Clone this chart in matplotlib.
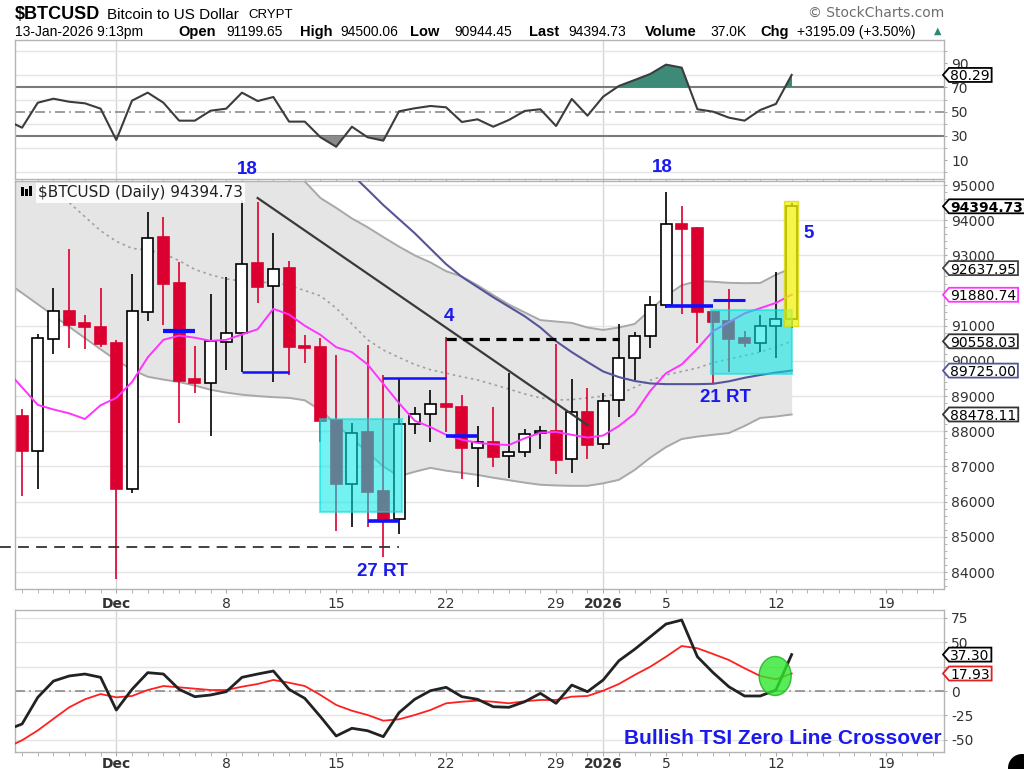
import matplotlib
matplotlib.use("Agg")
import matplotlib.pyplot as plt
from matplotlib.patches import Rectangle, Ellipse, Polygon, Circle
from matplotlib.transforms import IdentityTransform
import numpy as np
import pandas as pd

W, H = 1024, 769

# ---------------- data ----------------
candle_dates = pd.date_range("2025-11-25", "2026-01-13", freq="D")
opens = [88430, 87450, 90620, 91420, 91080, 90970,
         90520, 86370, 91400, 93510, 92220, 89490, 89380, 90550, 90790, 92770, 92130, 92630, 90430, 90400,
         88320, 86490, 87970, 86300, 85500, 88210, 88480, 88770, 88680, 87530, 87700, 87300, 87420, 87940, 88010, 87200, 88560,
         87640, 88890, 90090, 90710, 91590, 93880, 93770, 91380, 91140, 90640, 90520, 91000, 91199.65]
highs = [88630, 90770, 92060, 93180, 91300, 92080,
         90600, 92460, 94230, 94100, 92800, 90430, 91890, 92390, 94580, 94510, 93630, 92840, 90740, 90640,
         90170, 88240, 90450, 89600, 89490, 88680, 89170, 90670, 89030, 88150, 88680, 89650, 88060, 88150, 90470, 89490, 89220,
         89080, 91050, 90830, 91850, 94810, 94410, 93800, 91400, 92040, 90850, 91300, 92520, 94500.06]
lows = [86160, 86370, 90190, 90360, 90340, 90400,
        83790, 86240, 91140, 91020, 88240, 89080, 87870, 89740, 89690, 91660, 89410, 89600, 89930, 87700,
        85170, 85290, 85290, 84440, 85080, 87920, 87700, 87990, 86640, 86410, 86990, 86660, 87260, 87490, 86790, 86820, 87200,
        87500, 88420, 89460, 90360, 91500, 91330, 90500, 89340, 89690, 90400, 90250, 90090, 90944.45]
closes = [87440, 90640, 91420, 91020, 90950, 90480,
          86370, 91420, 93500, 92200, 89440, 89360, 90570, 90800, 92760, 92110, 92610, 90400, 90360, 88300,
          86490, 87960, 86280, 85500, 88210, 88480, 88770, 88680, 87530, 87700, 87280, 87420, 87910, 88010, 87180, 88540, 87610,
          88870, 90090, 90710, 91590, 93880, 93750, 91380, 91120, 90620, 90500, 90990, 91199.64, 94394.73]

ind_dates = pd.date_range("2025-11-24", "2026-01-13", freq="D")
rsi = [43, 36.8, 57.4, 60.7, 58.2, 56.9, 52.5,
       26.7, 59.1, 65.7, 57.4, 42.6, 42.6, 50.8, 52.5, 65.7, 58.8, 62.1, 41.8, 41.8, 28.9, 21.1, 37.6, 28.9, 26.1,
       50.3, 52.8, 54.7, 53.6, 41.5, 43.7, 37.6, 43.2, 50.6, 52.0, 38.2, 60.5, 46.7,
       62.4, 71.2, 76.1, 81.1, 88.8, 86.3, 52.0, 50.0, 45.1, 42.6, 51.4, 56.4, 80.29]
tsi = [-40, -33.8, -6.5, 10.2, 15.4, 17.4, 14.0,
       -19.5, 1.7, 18.8, 17.4, 1.7, -5.8, -4.1, -0.7, 14.0, 17.4, 20.5, 1.7, -7.5, -26.3, -46.1, -38.2, -40.7, -46.8,
       -22.2, -8.5, 0.3, 3.8, -5.8, -8.5, -16.1, -16.7, -11.0, -2.4, -12.6, 6.1, -0.7,
       11.3, 31.0, 42.7, 55.6, 68.6, 72.7, 35.1, 18.8, 4.4, -5.1, -5.1, 1.0, 37.30]
tsi_signal = [-58, -50.5, -40.4, -28.5, -16.7, -8.5, -3.1,
              -6.5, -5.1, 1.0, 5.1, 3.8, 2.4, 1.0, 1.0, 4.4, 7.2, 11.3, 8.5, 5.1, -4.1, -14.3, -20.2, -24.6, -30.4,
              -29.0, -24.6, -19.5, -12.6, -11.0, -9.9, -11.0, -12.6, -10.5, -9.2, -9.2, -5.8, -5.1,
              0.3, 7.2, 16.4, 24.9, 35.1, 46.1, 43.8, 37.9, 31.8, 23.3, 15.4, 12.0, 17.93]
bb_upper = [101500, 101000, 100600, 100200, 99800, 99400, 99000,
            98700, 98400, 98100, 97800, 97500, 97200, 96900, 96600, 96300, 96000, 95700, 95400, 95100, 94630, 94350,
            94050, 93800, 93520, 93250, 93000, 92800, 92550, 92400, 92150, 91870, 91600, 91380, 91160, 91120, 91080, 90950,
            90880, 90950, 91050, 91450, 91850, 92150, 92270, 92250, 92220, 92210, 92215, 92450, 92637.95]
bb_middle = [95900, 95600, 95200, 94850, 94500, 94100, 93700,
             93400, 93200, 93150, 93050, 92850, 92600, 92450, 92330, 92270, 92240, 92220, 92150, 92000, 91850, 91500,
             91050, 90600, 90310, 90100, 89900, 89750, 89650, 89550, 89460, 89330, 89200, 89060, 88950, 88890, 88900, 88950,
             89000, 89050, 89250, 89450, 89600, 89700, 89800, 89950, 90050, 90150, 90250, 90400, 90558.03]
bb_lower = [92250, 91930, 91610, 91290, 90970, 90650, 90330,
            90020, 89750, 89550, 89470, 89400, 89300, 89180, 89100, 89040, 89000, 88970, 88950, 88880, 88600, 88200,
            87800, 87400, 87000, 86720, 86850, 86960, 86880, 86820, 86760, 86680, 86610, 86540, 86480, 86460, 86450, 86450,
            86520, 86620, 86900, 87250, 87550, 87780, 87850, 87900, 87950, 88150, 88380, 88420, 88478.11]
ema = [89740, 89250, 88750, 88620, 88510, 88350, 88740,
       88950, 89400, 90100, 90600, 90720, 90660, 90570, 90600, 90750, 90900, 91480, 91320, 91000, 90740, 90390,
       90250, 89900, 89350, 88800, 88300, 88120, 87900, 87760, 87670, 87630, 87610, 87800, 87960, 87980, 87900, 87820,
       87880, 88150, 88500, 89150, 89650, 89900, 90350, 90850, 91100, 91350, 91500, 91650, 91880.74]
nan = float("nan")
sma50 = [nan, nan, nan, nan, nan, nan, nan,
         nan, nan, nan, nan, nan, nan, nan, nan, nan, nan, nan, nan, nan, nan, 95750,
         95300, 94870, 94430, 94030, 93630, 93190, 92750, 92390, 92100, 91810, 91540, 91270, 90950, 90560, 90250, 89970,
         89700, 89540, 89430, 89360, 89340, 89340, 89340, 89350, 89420, 89520, 89600, 89670, 89725.00]

tick_dates = ["2025-12-01", "2025-12-08", "2025-12-15", "2025-12-22", "2025-12-29",
              "2026-01-01", "2026-01-05", "2026-01-12", "2026-01-19"]
tick_labels = ["Dec", "8", "15", "22", "29", "2026", "5", "12", "19"]

# chartist annotations
trend_line = [("2025-12-10", 94630), ("2025-12-31", 88180)]
resist_dashed = ("2025-12-22", "2026-01-02", 90614)
support_dashed = ("2025-11-23 15:00", "2025-12-19", 84720)
blue_levels = [("2025-12-04", "2025-12-06", 90850, 3.0),
               ("2025-12-09", "2025-12-12", 89693, 1.8),
               ("2025-12-17", "2025-12-19", 85450, 2.6),
               ("2025-12-18", "2025-12-22", 89523, 1.8),
               ("2025-12-22", "2025-12-24", 87866, 2.6),
               ("2026-01-05", "2026-01-08", 91570, 2.6),
               ("2026-01-08", "2026-01-10", 91732, 2.2)]
cyan_boxes = [("2025-12-14 00:00", "2025-12-19 05:00", 85706, 88349),
              ("2026-01-07 21:00", "2026-01-13 01:00", 89628, 91447)]
yellow_box = ("2026-01-12 12:30", "2026-01-13 10:00", 90993, 94546)

# ---------------- helpers ----------------
d0 = pd.Timestamp("2025-12-01")
def xd(s):
    return (pd.Timestamp(s) - d0) / pd.Timedelta(days=1)

xc = np.array([(d - d0).days for d in candle_dates], dtype=float)
xi = np.array([(d - d0).days for d in ind_dates], dtype=float)
XL = (-6.45, 52.7)

fig = plt.figure(figsize=(W / 100, H / 100), dpi=100)
fig.patch.set_facecolor("white")

def fax(top, bottom):
    return fig.add_axes([15 / W, 1 - bottom / H, 929 / W, (bottom - top) / H])

ax_rsi = fax(40, 179)
ax_main = fax(181, 589)
ax_tsi = fax(610, 752)

RED = "#dc0030"
BLUE = "#1a1aee"
GRID = "#e4e4e4"

def style(ax, show_labels, pad=3):
    for s in ax.spines.values():
        s.set_color("#b4b4b4")
        s.set_linewidth(1)
    ax.set_facecolor("white")
    ax.set_axisbelow(True)
    ax.yaxis.tick_right()
    ax.tick_params(axis="y", which="both", length=2, color="#aaaaaa", labelsize=10,
                   labelcolor="#333333", pad=3)
    ax.set_xticks([xd(t) for t in tick_dates])
    ax.set_xticks(np.arange(-6, 53), minor=True)
    ax.set_xlim(XL)
    ax.tick_params(axis="x", which="both", length=3, color="#aaaaaa", pad=pad)
    if show_labels:
        ax.set_xticklabels(tick_labels, fontsize=10, color="#333333")
        for lab in ax.get_xticklabels():
            if lab.get_text() in ("Dec", "2026"):
                lab.set_fontweight("bold")
    else:
        ax.set_xticklabels([])
    for t in ("2025-12-01", "2026-01-01"):
        ax.axvline(xd(t), color="#d6d6d6", lw=1, zorder=0.5)

# ---------------- RSI ----------------
style(ax_rsi, False)
ax_rsi.set_yticks([10, 30, 50, 70, 90])
ax_rsi.set_yticks(np.arange(0, 101, 10), minor=True)
ax_rsi.set_ylim(-5.5, 109.1)
ax_rsi.grid(axis="y", which="minor", color=GRID, lw=1)
ax_rsi.axhline(70, color="#7a7a7a", lw=1.5, zorder=1)
ax_rsi.axhline(30, color="#7a7a7a", lw=1.5, zorder=1)
ax_rsi.axhline(50, color="#8c8c8c", lw=1.2, ls=(0, (6, 2.5, 1, 2.5)), zorder=1)
rsi_a = np.array(rsi)
ax_rsi.fill_between(xi, 70, rsi_a, where=rsi_a > 70, interpolate=True, color="#3d8a78", lw=0, zorder=2)
ax_rsi.fill_between(xi, 30, rsi_a, where=rsi_a < 30, interpolate=True, color="#8a8a8a", lw=0, zorder=2)
ax_rsi.plot(xi, rsi_a, color="#3c3c3c", lw=1.5, zorder=3)

# ---------------- main price panel ----------------
style(ax_main, True)
main_ticks = list(range(84000, 95001, 1000))
ax_main.set_yticks(main_ticks)
ax_main.set_yticklabels(["" if v == 92000 else str(v) for v in main_ticks])
ax_main.set_yticks(np.arange(83600, 95101, 200), minor=True)
ax_main.set_ylim(83517, 95114)
ax_main.grid(axis="y", which="major", color=GRID, lw=1)

ax_main.fill_between(xi, bb_lower, bb_upper, color="#e5e5e5", lw=0, zorder=1)
ax_main.plot(xi, bb_upper, color="#a8a8a8", lw=1.4, zorder=2)
ax_main.plot(xi, bb_lower, color="#a8a8a8", lw=1.4, zorder=2)
ax_main.plot(xi, bb_middle, color="#a0a0a0", lw=1.2, ls=(0, (1.5, 2.2)), zorder=2)

bw = 0.7
for x, o, h, l, c in zip(xc, opens, highs, lows, closes):
    up = c >= o
    col = "black" if up else RED
    ax_main.plot([x, x], [l, h], color=col, lw=1.2, zorder=3, solid_capstyle="butt")
    lo, hi = min(o, c), max(o, c)
    ax_main.add_patch(Rectangle((x - bw / 2, lo), bw, max(hi - lo, 25),
                                facecolor="white" if up else RED, edgecolor=col, lw=1.2, zorder=4))

ax_main.plot(xi, ema, color="#ff33ff", lw=1.4, zorder=4.5)
ax_main.plot(xi, sma50, color="#55559a", lw=1.5, zorder=4.5)
ax_main.plot([xd(trend_line[0][0]), xd(trend_line[1][0])], [trend_line[0][1], trend_line[1][1]],
             color="#3a3a3a", lw=1.6, zorder=4.6)
ax_main.plot([xd(resist_dashed[0]), xd(resist_dashed[1])], [resist_dashed[2]] * 2,
             color="black", lw=2.3, ls=(0, (3.2, 2.0)), zorder=4.6)
ax_main.plot([xd(support_dashed[0]), xd(support_dashed[1])], [support_dashed[2]] * 2,
             color="#333333", lw=1.3, ls=(0, (6, 4)), zorder=4.6, clip_on=False)
for a, b, v, lw in blue_levels:
    ax_main.plot([xd(a), xd(b)], [v, v], color="#1010ff", lw=lw, zorder=4.7, solid_capstyle="butt")

for a, b, lo, hi in cyan_boxes:
    ax_main.add_patch(Rectangle((xd(a), lo), xd(b) - xd(a), hi - lo, facecolor="#00e8e8",
                                edgecolor="#00dede", lw=1.5, alpha=0.55, zorder=5))
ya, yb, ylo, yhi = yellow_box
ax_main.add_patch(Rectangle((xd(ya), ylo), xd(yb) - xd(ya), yhi - ylo, facecolor="#f2f20a",
                            edgecolor="#d8d800", lw=1.0, alpha=0.75, zorder=5))

bold_blue = dict(color=BLUE, fontsize=13.5, fontweight="bold", family="Liberation Sans",
                 ha="center", va="center", clip_on=False, zorder=6)
ax_main.text(8.34, 95427, "18", **bold_blue)
ax_main.text(34.75, 95484, "18", **bold_blue)
ax_main.text(21.2, 91249, "4", **bold_blue)
ax_main.text(44.1, 93608, "5", **bold_blue)
ax_main.text(16.93, 84028, "27 RT", **bold_blue)
ax_main.text(38.8, 88946, "21 RT", **bold_blue)

# ---------------- TSI ----------------
style(ax_tsi, True, pad=0.5)
ax_tsi.set_yticks([75, 50, 25, 0, -25, -50])
ax_tsi.set_yticklabels(["75", "50", "", "0", "-25", "-50"])
ax_tsi.set_ylim(-62.5, 83)
ax_tsi.grid(axis="y", color=GRID, lw=1)
ax_tsi.axhline(0, color="#8c8c8c", lw=1.2, ls=(0, (6, 2.5, 1, 2.5)), zorder=1)
ax_tsi.plot(xi, tsi_signal, color="#ff2020", lw=1.3, zorder=3)
ax_tsi.plot(xi, tsi, color="#222222", lw=2.0, zorder=4)
ax_tsi.add_patch(Ellipse((41.95, 15.4), 2.04, 40, facecolor="#2ee82e", edgecolor="#1faa1f",
                         lw=1.0, alpha=0.8, zorder=5))
fig.text(942 / W, 1 - 739 / H, "Bullish TSI Zero Line Crossover", color=BLUE, fontsize=15,
         fontweight="bold", family="Liberation Sans", ha="right", va="center", zorder=12)

# ---------------- header ----------------
def htext(x, y, s, **kw):
    kw.setdefault("family", "Liberation Sans")
    kw.setdefault("color", "black")
    fig.text(x / W, 1 - y / H, s, va="baseline", ha="left", **kw)

htext(15, 19, "$BTCUSD", fontsize=13, fontweight="bold")
htext(107, 19, "Bitcoin to US Dollar", fontsize=11)
htext(248, 18, "CRYPT", fontsize=9.5)
htext(15, 36, "13-Jan-2026 9:13pm", fontsize=10)
for x, s, b in [(178, "Open", True), (226, "91199.65", False), (300, "High", True), (340, "94500.06", False),
                (410, "Low", True), (454, "90944.45", False), (529, "Last", True), (568, "94394.73", False),
                (645, "Volume", True), (710, "37.0K", False), (760, "Chg", True),
                (797, "+3195.09 (+3.50%)", False)]:
    htext(x, 36, s, fontsize=10.5 if b else 10, fontweight="bold" if b else "normal")
fig.text(938 / W, 1 - 31 / H, "\u25b2", color="#2a8a7a", fontsize=7, ha="center", va="center",
         family="DejaVu Sans")
fig.text(944 / W, 1 - 17 / H, "\u00a9 StockCharts.com", color="#6e6e6e", fontsize=10,
         family="DejaVu Sans", ha="right", va="baseline")

# main panel title
fig.text(38 / W, 1 - 193 / H, "$BTCUSD (Daily) 94394.73", fontsize=11, family="DejaVu Sans",
         color="#222222", ha="left", va="center", zorder=12,
         bbox=dict(boxstyle="square,pad=0.15", fc="white", ec="none", alpha=0.9))
for (x0, y0, w, h) in [(21, 187, 3, 9), (25, 189, 3, 7), (29, 186, 3, 10)]:
    fig.add_artist(Rectangle((x0, H - y0 - h), w, h, transform=IdentityTransform(),
                             fc="black", ec="none", zorder=13))

# ---------------- value tags ----------------
fig.canvas.draw()
renderer = fig.canvas.get_renderer()

def tag(ax, val, label, ec, bold=False):
    x0, y = ax.transData.transform((ax.get_xlim()[1], val))
    x0 -= 1
    t = fig.text(x0 + 7, y, label, transform=IdentityTransform(), fontsize=10,
                 fontweight="bold" if bold else "normal", family="DejaVu Sans",
                 va="center_baseline", ha="left", color="black", zorder=21)
    bb = t.get_window_extent(renderer=renderer)
    x1 = bb.x1 + 2
    h = 7
    fig.add_artist(Polygon([[x0, y], [x0 + 6, y + h], [x1, y + h], [x1, y - h], [x0 + 6, y - h]],
                           closed=True, transform=IdentityTransform(), fc="white", ec=ec,
                           lw=1.3, zorder=20))

tag(ax_main, 94394.73, "94394.73", "black", bold=True)
tag(ax_main, 92637.95, "92637.95", "#444444")
tag(ax_main, 91880.74, "91880.74", "#ff33ff")
tag(ax_main, 90558.03, "90558.03", "#333333")
tag(ax_main, 89725.00, "89725.00", "#55559a")
tag(ax_main, 88478.11, "88478.11", "#333333")
tag(ax_rsi, 80.29, "80.29", "black")
tag(ax_tsi, 37.30, "37.30", "black")
tag(ax_tsi, 17.93, "17.93", "#e02020")

fig.add_artist(Circle((1022, H - 768), 14, transform=IdentityTransform(), fc="black", ec="none", zorder=30))

fig.savefig("out.png", dpi=100, facecolor="white")
